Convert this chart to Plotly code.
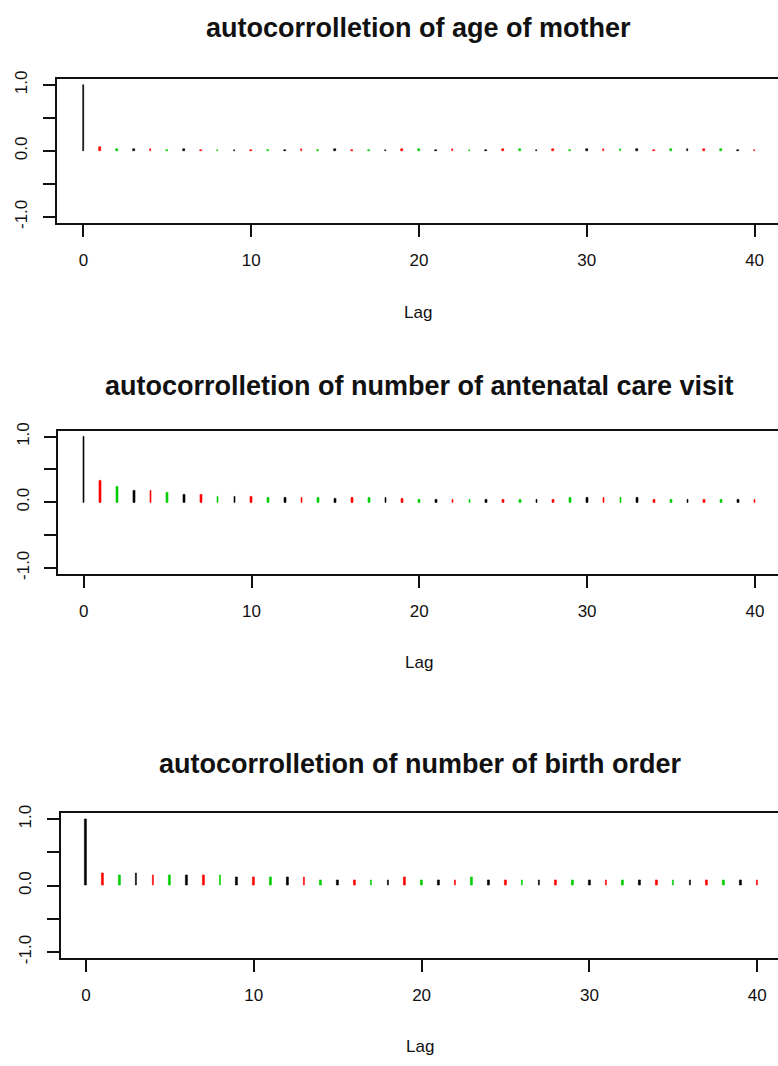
import plotly.graph_objects as go

# ---------------- data ----------------
lags = list(range(41))

titles = [
    "autocorrolletion of age of mother",
    "autocorrolletion of number of antenatal care visit",
    "autocorrolletion of number of birth order",
]

acf_age_mother = [1.0, 0.065, 0.035, 0.035, 0.035, 0.012, 0.035, 0.01, 0.01, 0.01,
                  0.01, 0.01, 0.01, 0.035, 0.01, 0.035, 0.01, 0.01, 0.01, 0.035,
                  0.035, 0.01, 0.035, 0.01, 0.01, 0.035, 0.035, 0.01, 0.035, 0.01,
                  0.035, 0.035, 0.035, 0.035, 0.01, 0.035, 0.035, 0.035, 0.035, 0.01,
                  0.01]

acf_antenatal = [1.0, 0.33, 0.24, 0.18, 0.18, 0.15, 0.12, 0.12, 0.09, 0.09,
                 0.09, 0.065, 0.065, 0.065, 0.065, 0.06, 0.07, 0.065, 0.065, 0.06,
                 0.04, 0.04, 0.04, 0.04, 0.04, 0.04, 0.04, 0.04, 0.04, 0.065,
                 0.065, 0.065, 0.065, 0.065, 0.04, 0.04, 0.04, 0.04, 0.04, 0.04,
                 0.04]

acf_birth_order = [1.0, 0.18, 0.15, 0.18, 0.15, 0.15, 0.15, 0.15, 0.15, 0.12,
                   0.12, 0.12, 0.12, 0.12, 0.08, 0.08, 0.08, 0.08, 0.08, 0.12,
                   0.08, 0.08, 0.08, 0.12, 0.08, 0.08, 0.08, 0.08, 0.08, 0.08,
                   0.08, 0.08, 0.08, 0.08, 0.08, 0.08, 0.08, 0.08, 0.08, 0.08,
                   0.08]

series = [acf_age_mother, acf_antenatal, acf_birth_order]
palette = ["#000000", "#FF0000", "#00CD00"]
bar_colors = [palette[k % 3] for k in lags]

x_tickvals = [0, 10, 20, 30, 40]
y_tickvals = [-1.0, -0.5, 0.0, 0.5, 1.0]
y_ticktext = ["-1.0", "", "0.0", "", "1.0"]

# ---------------- layout geometry (pixels) ----------------
W, H = 778, 1066
px_per_lag = 16.78
panels = [
    dict(top=72.0, bottom=217.7, left=57.0, x0=83.4, title_y=20, lag_y=309),
    dict(top=428.3, bottom=573.3, left=58.3, x0=83.7, title_y=383, lag_y=663),
    dict(top=816.0, bottom=962.7, left=60.7, x0=86.0, title_y=766, lag_y=1052),
]

FONT = "Liberation Sans, Arial, sans-serif"
fig = go.Figure()
annotations = []

for i, (vals, p) in enumerate(zip(series, panels)):
    n = "" if i == 0 else str(i + 1)
    fig.add_trace(go.Bar(
        x=lags, y=vals, width=0.1,
        marker=dict(color=bar_colors, line=dict(color=bar_colors, width=0.6)),
        xaxis="x" + n, yaxis="y" + n, showlegend=False, hoverinfo="x+y",
    ))
    xr = [(p["left"] - p["x0"]) / px_per_lag, (W - p["x0"]) / px_per_lag]
    axis_common = dict(
        showgrid=False, zeroline=False, showline=True, linecolor="#111111",
        linewidth=2, ticks="outside", ticklen=12, tickwidth=2, tickcolor="#111111",
        tickfont=dict(family=FONT, size=17, color="#111111"),
    )
    fig.update_layout(**{
        "xaxis" + n: dict(
            domain=[p["left"] / W, 1.0], range=xr, anchor="y" + n,
            tickvals=x_tickvals, mirror=True, ticklabelstandoff=9, **axis_common),
        "yaxis" + n: dict(
            domain=[1 - p["bottom"] / H, 1 - p["top"] / H], range=[-1.09, 1.09],
            anchor="x" + n, tickvals=y_tickvals, ticktext=y_ticktext,
            tickangle=-90, ticklabelstandoff=9, **axis_common),
    })
    cx = (p["left"] + W + 2) / 2 / W
    annotations.append(dict(
        text="<b>" + titles[i] + "</b>", x=cx, y=1 - p["title_y"] / H,
        xref="paper", yref="paper", xanchor="center", yanchor="middle",
        showarrow=False, font=dict(family=FONT, size=27, color="#111111")))
    annotations.append(dict(
        text="Lag", x=cx, y=1 - p["lag_y"] / H,
        xref="paper", yref="paper", xanchor="center", yanchor="middle",
        showarrow=False, font=dict(family=FONT, size=17, color="#111111")))

fig.update_layout(
    width=W, height=H, margin=dict(l=0, r=0, t=0, b=0),
    paper_bgcolor="white", plot_bgcolor="white",
    annotations=annotations, bargap=0,
)

fig.write_html("out.html")
